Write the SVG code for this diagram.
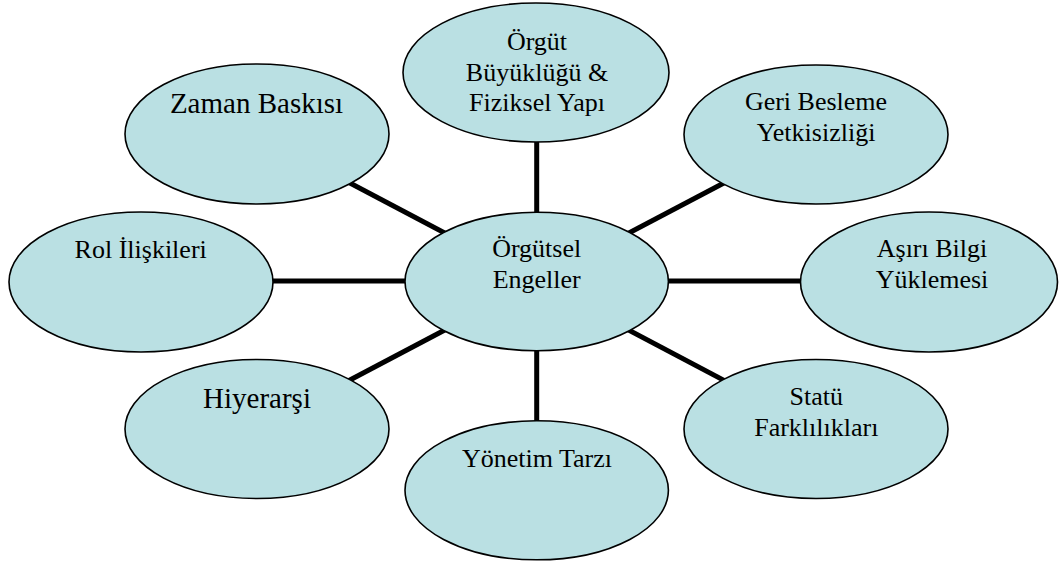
<svg xmlns="http://www.w3.org/2000/svg" width="1059" height="561" viewBox="0 0 1059 561">
<style>
.n{fill:#BAE0E3;stroke:#000;stroke-width:1.6}
.t{font-family:"Liberation Serif","Times New Roman",serif;font-size:26px;fill:#000;text-anchor:middle}
.b{font-size:29px}
.c{stroke:#000;stroke-width:5;fill:none}
</style>
<rect width="1059" height="561" fill="#fff"/>
<g id="connectors">
<line class="c" x1="536.7" y1="72.5" x2="536.7" y2="281.5"/>
<line class="c" x1="257" y1="134" x2="536.7" y2="281.5"/>
<line class="c" x1="816" y1="134.5" x2="536.7" y2="281.5"/>
<line class="c" x1="141" y1="281" x2="536.7" y2="281"/>
<line class="c" x1="929" y1="281" x2="536.7" y2="281"/>
<line class="c" x1="257" y1="429" x2="536.7" y2="281.5"/>
<line class="c" x1="816" y1="429" x2="536.7" y2="281.5"/>
<line class="c" x1="536.7" y1="490" x2="536.7" y2="281.5"/>
</g>
<g id="n-top">
<ellipse class="n" cx="536" cy="72.5" rx="133" ry="69.5"/>
<text class="t" x="537" y="50">Örgüt</text>
<text class="t" x="537" y="81">Büyüklüğü &amp;</text>
<text class="t" x="537" y="111">Fiziksel Yapı</text>
</g>
<g id="n-zaman">
<ellipse class="n" cx="257" cy="134" rx="132" ry="70"/>
<text class="t b" x="256.5" y="113">Zaman Baskısı</text>
</g>
<g id="n-geri">
<ellipse class="n" cx="816" cy="134.5" rx="132" ry="69.5"/>
<text class="t" x="816" y="110">Geri Besleme</text>
<text class="t" x="816" y="140.5">Yetkisizliği</text>
</g>
<g id="n-rol">
<ellipse class="n" cx="141" cy="282" rx="132" ry="70"/>
<text class="t" x="140.7" y="258">Rol İlişkileri</text>
</g>
<g id="n-center">
<ellipse class="n" cx="536.7" cy="281.5" rx="131.7" ry="69.2"/>
<text class="t" x="536.7" y="256.5">Örgütsel</text>
<text class="t" x="536.7" y="288">Engeller</text>
</g>
<g id="n-asiri">
<ellipse class="n" cx="929" cy="282" rx="128.5" ry="70"/>
<text class="t" x="932" y="256.5">Aşırı Bilgi</text>
<text class="t" x="932" y="288">Yüklemesi</text>
</g>
<g id="n-hiyerarsi">
<ellipse class="n" cx="257" cy="429" rx="132" ry="69.5"/>
<text class="t b" x="257" y="408">Hiyerarşi</text>
</g>
<g id="n-statu">
<ellipse class="n" cx="816" cy="429" rx="132" ry="69.5"/>
<text class="t" x="816.3" y="405">Statü</text>
<text class="t" x="816.3" y="436">Farklılıkları</text>
</g>
<g id="n-yonetim">
<ellipse class="n" cx="536.7" cy="490.3" rx="131.7" ry="69.5"/>
<text class="t" x="537" y="466.5">Yönetim Tarzı</text>
</g>
</svg>
